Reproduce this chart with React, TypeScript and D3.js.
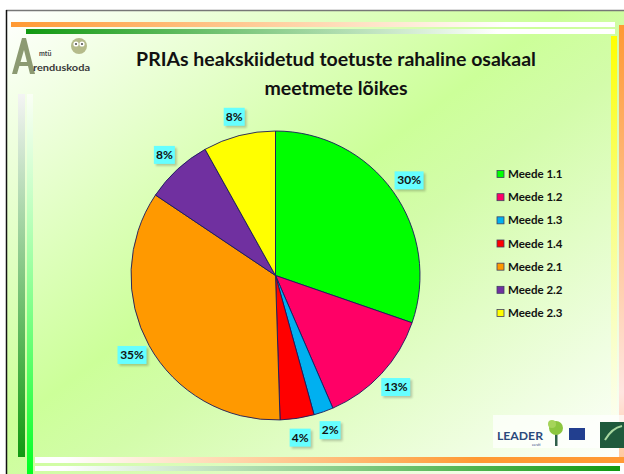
import React from "react";
import * as d3 from "d3";

const categories = ["Meede 1.1", "Meede 1.2", "Meede 1.3", "Meede 1.4", "Meede 2.1", "Meede 2.2", "Meede 2.3"];
const shares = [30.3, 13.2, 2.2, 3.8, 34.9, 7.5, 8.1];
const percentLabels = ["30%", "13%", "2%", "4%", "35%", "8%", "8%"];
const colors = ["#00ff00", "#ff0066", "#00b0f0", "#ff0000", "#ff9900", "#7030a0", "#ffff00"];
const titleLines = ["PRIAs heakskiidetud toetuste rahaline osakaal", "meetmete lõikes"];

const W = 624;
const H = 474;
const FONT = "Lato, 'Open Sans', sans-serif";

export default function App() {
  const cx = 275.5;
  const cy = 275.5;
  const r = 144.5;
  const pie = d3.pie<number>().sort(null).value((d) => d).startAngle(0).endAngle(2 * Math.PI);
  const arcs = pie(shares);
  const arcGen = d3.arc<d3.PieArcDatum<number>>().innerRadius(0).outerRadius(r);
  const labelArc = d3.arc<d3.PieArcDatum<number>>().innerRadius(164).outerRadius(164);

  const legendY = d3.scalePoint<string>().domain(categories).range([174, 313]);

  return (
    <svg width={W} height={H} style={{ position: "absolute", left: 0, top: 0 }} fontFamily={FONT}>
      <defs>
        <linearGradient id="bg" x1="0" y1="0" x2="1" y2="1">
          <stop offset="0" stopColor="#ffffff" />
          <stop offset="0.45" stopColor="#ccff99" />
          <stop offset="0.56" stopColor="#d3fcaa" />
          <stop offset="1" stopColor="#ffffff" />
        </linearGradient>
        <linearGradient id="topOrange" x1="0" y1="0" x2="1" y2="0">
          <stop offset="0" stopColor="#ff9933" />
          <stop offset="0.82" stopColor="#ffffff" />
        </linearGradient>
        <linearGradient id="topGreen" x1="0" y1="0" x2="1" y2="0">
          <stop offset="0" stopColor="#119911" />
          <stop offset="0.8" stopColor="#ffffff" />
        </linearGradient>
        <linearGradient id="botOrange" x1="0" y1="0" x2="1" y2="0">
          <stop offset="0.05" stopColor="#ffffff" />
          <stop offset="0.75" stopColor="#ff9933" />
        </linearGradient>
        <linearGradient id="botGreen" x1="0" y1="0" x2="1" y2="0">
          <stop offset="0.05" stopColor="#ffffff" />
          <stop offset="1" stopColor="#119911" />
        </linearGradient>
        <linearGradient id="leftDark" x1="0" y1="0" x2="0" y2="1">
          <stop offset="0" stopColor="#f4f4f4" />
          <stop offset="1" stopColor="#119911" />
        </linearGradient>
        <linearGradient id="leftBright" x1="0" y1="0" x2="0" y2="1">
          <stop offset="0" stopColor="#ffffff" stopOpacity="0.6" />
          <stop offset="1" stopColor="#00ff22" />
        </linearGradient>
        <linearGradient id="rightYellow" x1="0" y1="0" x2="0" y2="1">
          <stop offset="0" stopColor="#ffff00" />
          <stop offset="1" stopColor="#ffffff" stopOpacity="0.5" />
        </linearGradient>
        <linearGradient id="rightOrange" x1="0" y1="0" x2="0" y2="1">
          <stop offset="0" stopColor="#ff9933" />
          <stop offset="0.85" stopColor="#ffe6e0" />
          <stop offset="1" stopColor="#ffc9a0" />
        </linearGradient>
        <filter id="shadow" x="-30%" y="-30%" width="160%" height="160%">
          <feGaussianBlur stdDeviation="1" />
        </filter>
      </defs>

      {/* page */}
      <rect x={0} y={0} width={W} height={H} fill="#ffffff" />
      <rect x={7} y={11} width={W - 7} height={H - 11} fill="url(#bg)" />
      <line x1={6} y1={10.5} x2={W} y2={10.5} stroke="#777777" strokeWidth={1.5} />
      <line x1={6.5} y1={10} x2={6.5} y2={H} stroke="#111111" strokeWidth={1.5} />

      {/* decorative bars */}
      <rect x={11} y={22} width={604} height={5} fill="url(#topOrange)" />
      <rect x={26} y={29} width={589} height={5} fill="url(#topGreen)" />
      <rect x={35} y={457} width={589} height={6} fill="url(#botOrange)" />
      <rect x={35} y={466} width={585} height={5} fill="url(#botGreen)" />
      <rect x={18} y={94} width={7} height={363} fill="url(#leftDark)" />
      <rect x={27} y={94} width={6} height={380} fill="url(#leftBright)" />
      <rect x={611} y={36} width={6} height={414} fill="url(#rightYellow)" />
      <rect x={619} y={25} width={5} height={432} fill="url(#rightOrange)" />

      {/* top-left logo */}
      <g>
        <path d="M12,74 L22,38 L26,38 L35,74 L30,74 L24,50 L17,74 Z M18,62 L30,62 L31,66 L17,66 Z" fill="#8c9a72" />
        <text x={39} y={56} fontSize={7} fontWeight="bold" fill="#444">mtü</text>
        <text x={33} y={71} fontSize={9.5} fontWeight="bold" fill="#3a3a3a" textLength={57} lengthAdjust="spacingAndGlyphs">renduskoda</text>
        <ellipse cx={79} cy={46} rx={8} ry={8} fill="#b5bb8a" />
        <circle cx={76} cy={44} r={2.6} fill="#ffffff" />
        <circle cx={82} cy={44} r={2.6} fill="#ffffff" />
        <circle cx={76} cy={44} r={1.1} fill="#555" />
        <circle cx={82} cy={44} r={1.1} fill="#555" />
      </g>

      {/* title */}
      {titleLines.map((t, i) => (
        <text key={t} x={336} y={66 + i * 29} textAnchor="middle" fontSize={19.5} fontWeight="bold" fill="#111">
          {t}
        </text>
      ))}

      {/* pie */}
      <g transform={`translate(${cx},${cy})`}>
        {arcs.map((a, i) => (
          <path key={categories[i]} d={arcGen(a) ?? ""} fill={colors[i]} stroke="#1a1a5e" strokeWidth={0.9} />
        ))}
        {arcs.map((a, i) => {
          const [lx, ly] = labelArc.centroid(a);
          const bw = percentLabels[i].length > 2 ? 29 : 21;
          const bh = 18;
          return (
            <g key={"l" + i} transform={`translate(${lx},${ly})`}>
              <rect x={-bw / 2 + 2} y={-bh / 2 + 2} width={bw} height={bh} fill="#000" opacity={0.2} filter="url(#shadow)" />
              <rect x={-bw / 2} y={-bh / 2} width={bw} height={bh} fill="#66ffff" />
              <text x={0} y={4} textAnchor="middle" fontSize={12} fontWeight="bold" fill="#111">
                {percentLabels[i]}
              </text>
            </g>
          );
        })}
      </g>

      {/* legend */}
      {categories.map((c, i) => {
        const y = legendY(c) ?? 0;
        return (
          <g key={"lg" + c}>
            <rect x={497} y={y - 3.5} width={7} height={7} fill={colors[i]} stroke="#404060" strokeWidth={0.8} />
            <text x={508} y={y + 4} fontSize={11.5} fontWeight="bold" fill="#111">{c}</text>
          </g>
        );
      })}

      {/* bottom-right logos */}
      <g>
        <rect x={493} y={415} width={131} height={33} fill="#ffffff" opacity={0.7} />
        <text x={497} y={440} fontSize={11} fontWeight="bold" fill="#2b4a7c" textLength={46} lengthAdjust="spacingAndGlyphs">LEADER</text>
        <text x={532} y={446} fontSize={4} fill="#2b4a7c">eesti</text>
        <rect x={555} y={432} width={2.5} height={14} fill="#2f5f4a" />
        <circle cx={556} cy={428} r={7} fill="#8cc63f" />
        <circle cx={552} cy={424} r={4} fill="#a6d45a" />
        <rect x={569} y={428} width={16} height={12} fill="#223f8f" />
        <rect x={600} y={422} width={24} height={26} fill="#1f5a3c" />
        <path d="M605,440 Q612,428 622,426" stroke="#a8d8a0" strokeWidth={2} fill="none" />
      </g>
    </svg>
  );
}
